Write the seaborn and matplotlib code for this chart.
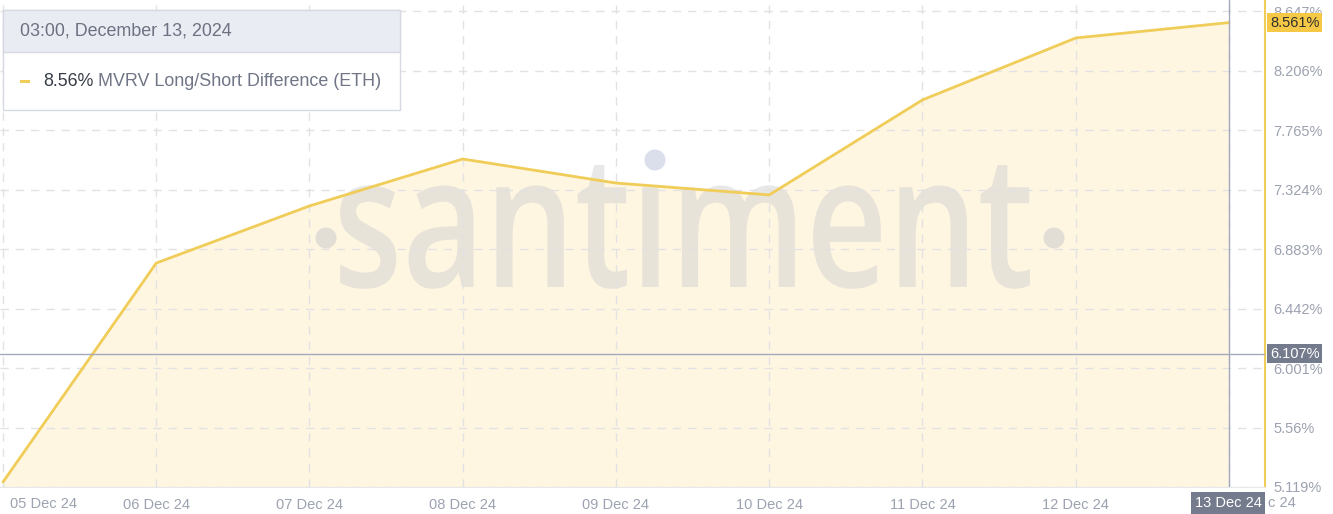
import matplotlib
matplotlib.use("Agg")
import matplotlib.pyplot as plt
import matplotlib.dates as mdates
from matplotlib.patches import Rectangle, Circle, PathPatch
from matplotlib.textpath import TextPath
from matplotlib.font_manager import FontProperties
from matplotlib.transforms import Affine2D, IdentityTransform
import seaborn as sns
import pandas as pd

# daily readings, 03:00 each day
dates = ["2024-12-05 03:00", "2024-12-06 03:00", "2024-12-07 03:00", "2024-12-08 03:00",
         "2024-12-09 03:00", "2024-12-10 03:00", "2024-12-11 03:00", "2024-12-12 03:00",
         "2024-12-13 03:00"]
mvrv_diff = [5.156, 6.779, 7.202, 7.550, 7.372, 7.284, 7.988, 8.447, 8.561]

x_labels = ["05 Dec 24", "06 Dec 24", "07 Dec 24", "08 Dec 24", "09 Dec 24",
            "10 Dec 24", "11 Dec 24", "12 Dec 24", "13 Dec 24"]
y_ticks = [5.119, 5.56, 6.001, 6.442, 6.883, 7.324, 7.765, 8.206, 8.647]
y_labels = ["5.119%", "5.56%", "6.001%", "6.442%", "6.883%", "7.324%", "7.765%", "8.206%", "8.647%"]
cursor_value = 6.107
last_value = 8.561

LINE = "#f0cc58"
FILL = "#fff6e2"
TICK = "#9ca2b0"
DARK_BOX = "#747b8d"

df = pd.DataFrame({"date": pd.to_datetime(dates), "value": mvrv_diff})

sns.set_style("white")
plt.rcParams["font.family"] = ["Liberation Sans", "DejaVu Sans"]

W, H = 1333, 514
fig = plt.figure(figsize=(W / 100, H / 100), dpi=100)
ax = fig.add_axes([0, (H - 487) / H, 1265 / W, 487 / H])

# x limits: first point at px 3, last at px 1229, right edge at 1265
x0 = mdates.date2num(df["date"].iloc[0])
x8 = mdates.date2num(df["date"].iloc[-1])
per_px = (x8 - x0) / (1229 - 3)
ax.set_xlim(x0 - 3 * per_px, x8 + 36 * per_px)
ax.set_ylim(5.119, 8.647 + 11 / 134.9)

ax.fill_between(df["date"], df["value"], 5.119, color=FILL, zorder=0.8, linewidth=0)

# watermark, stretched into its box (pixels, from top-left)
tp = TextPath((0, 0), "sant\u0131ment", size=100,
              prop=FontProperties(family="Open Sans", weight="semibold"))
ext = tp.get_extents()
sx = (1030 - 340) / (ext.x1 - ext.x0)
sy = (287 - 165) / ext.y1
wm = Affine2D().translate(-ext.x0, 0).scale(sx, sy).translate(340, H - 287)
ax.add_artist(PathPatch(wm.transform_path(tp), transform=IdentityTransform(),
                        fc="#d2d2d2", ec="none", alpha=0.5, zorder=0.9))
for px, py, c in [(326, 238, "#cfcfcf"), (1054, 238, "#cfcfcf"), (655, 160, "#c4c9de")]:
    ax.add_artist(Circle((px, H - py), 10.5, transform=IdentityTransform(),
                         fc=c, ec="none", alpha=0.6, zorder=0.9))

sns.lineplot(data=df, x="date", y="value", color=LINE, linewidth=2, ax=ax, zorder=4)

ax.set_xticks(df["date"])
ax.set_xticklabels(x_labels)
ax.set_yticks(y_ticks)
ax.set_yticklabels(y_labels)
ax.yaxis.tick_right()
ax.tick_params(axis="both", length=0, labelsize=10.5, labelcolor=TICK)
ax.tick_params(axis="y", pad=6)
ax.tick_params(axis="x", pad=8)
xt = ax.get_xticklabels()
xt[0].set_alpha(0)
xt[-1].set_alpha(0)
ax.set_xlabel("")
ax.set_ylabel("")
# first date label sits clamped inside the left edge
fig.text(10 / W, 1 - 504 / H, x_labels[0], fontsize=10.5, color=TICK, ha="left", va="center")

ax.grid(True, color="#e2e2e2", linestyle=(0, (6, 5)), linewidth=1)
ax.xaxis.set_zorder(1)
ax.yaxis.set_zorder(1)
for s in ["top", "left"]:
    ax.spines[s].set_visible(False)
ax.spines["right"].set_color(LINE)
ax.spines["right"].set_linewidth(1.5)
ax.spines["bottom"].set_color("#e8e8ea")

# crosshair
ax.axvline(df["date"].iloc[-1], color="#a3a9ba", linewidth=1, zorder=5)
ax.axhline(cursor_value, color="#a3a9ba", linewidth=1, zorder=5)

# right side value boxes
ax.text(1.0 + 5 / 1265, last_value, f"{last_value:.3f}%", transform=ax.get_yaxis_transform(),
        ha="left", va="center", fontsize=10.5, color="#2e2e2e",
        bbox=dict(boxstyle="square,pad=0.18", fc="#f5c945", ec="none"), zorder=10, clip_on=False)
ax.text(1.0 + 5 / 1265, cursor_value, f"{cursor_value:.3f}%", transform=ax.get_yaxis_transform(),
        ha="left", va="center", fontsize=10.5, color="white",
        bbox=dict(boxstyle="square,pad=0.18", fc=DARK_BOX, ec="none"), zorder=10, clip_on=False)

# bottom date box, with the tail of the plain label peeking out
fig.text(1228 / W, 1 - 503 / H, x_labels[-1], fontsize=10.5, color="white", ha="center", va="center",
         bbox=dict(boxstyle="square,pad=0.25", fc=DARK_BOX, ec="none"), zorder=10)
fig.text(1268 / W, 1 - 503 / H, "c 24", fontsize=10.5, color=TICK, ha="left", va="center")

# tooltip box
def px_rect(x, y, w, h, **kw):
    return Rectangle((x / W, 1 - (y + h) / H), w / W, h / H, transform=fig.transFigure, **kw)

fig.patches.append(px_rect(3, 10, 397, 100, fc="white", ec="#d6d9e1", lw=1, zorder=20))
fig.patches.append(px_rect(3, 10, 397, 42, fc="#eaecf4", ec="#d6d9e1", lw=1, zorder=21))
fig.text(20 / W, 1 - 31 / H, "03:00, December 13, 2024", fontsize=12.9, color="#6d7282",
         ha="left", va="center", zorder=22)
fig.patches.append(px_rect(20, 80, 10, 2.5, fc=LINE, ec="none", zorder=22))
t1 = fig.text(43 / W, 1 - 81 / H, f"{last_value:.2f}%", fontsize=12.9, color="#383d48",
              ha="left", va="center", zorder=22)
fig.add_artist(plt.Annotation(" MVRV Long/Short Difference (ETH)", xy=(1, 0.5), xycoords=t1,
                              va="center", ha="left", fontsize=12.9, color="#707686", zorder=22))

fig.savefig("out.png", dpi=100)
